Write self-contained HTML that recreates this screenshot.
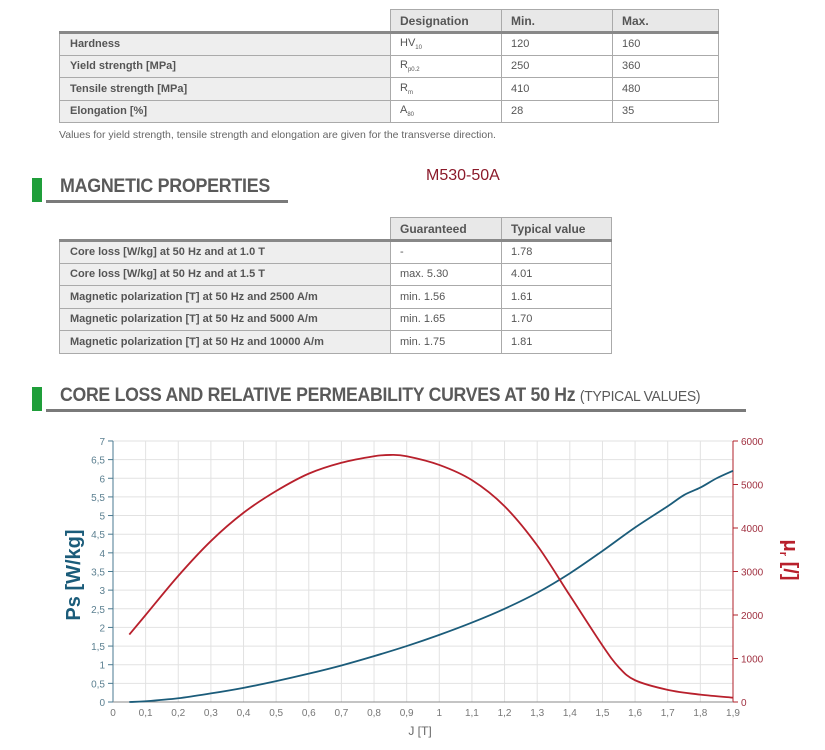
<!DOCTYPE html>
<html><head><meta charset="utf-8"><style>
body{margin:0;width:825px;height:750px;background:#fff;font-family:"Liberation Sans",sans-serif;position:relative;overflow:hidden;color:#555}
.a{position:absolute}
table{position:absolute;border-collapse:collapse;font-size:11px;color:#555}
td{border:1px solid #aaa;height:22.5px;padding:0 0 0 9px;box-sizing:border-box}
td.l{background:#eeeeee;font-weight:bold;color:#555;padding-left:10px}
td.h{background:#e8e8e8;font-weight:bold;font-size:12px;color:#555;height:23px}
tr.hr td{border-bottom:3px solid #888}
sub{font-size:6px}
.h2{position:absolute;font-size:19px;color:#5a5a5a;font-weight:bold;letter-spacing:-0.3px;transform-origin:0 0;white-space:nowrap}
.g{position:absolute;background:#1f9e3a;width:10px}
.u{position:absolute;height:3px;background:#7a7a7a}
</style></head><body>
<table style="left:59px;top:9px;width:660px">
<tr class="hr"><td style="border:none;border-bottom:3px solid #888;width:331px"></td><td class="h" style="width:111px">Designation</td><td class="h" style="width:111px">Min.</td><td class="h">Max.</td></tr>
<tr><td class="l">Hardness</td><td>HV<sub>10</sub></td><td>120</td><td>160</td></tr>
<tr><td class="l">Yield strength [MPa]</td><td>R<sub>p0.2</sub></td><td>250</td><td>360</td></tr>
<tr><td class="l">Tensile strength [MPa]</td><td>R<sub>m</sub></td><td>410</td><td>480</td></tr>
<tr><td class="l">Elongation [%]</td><td>A<sub>80</sub></td><td>28</td><td>35</td></tr>
</table>
<div class="a" style="left:59px;top:129px;font-size:10.5px;color:#666">Values for yield strength, tensile strength and elongation are given for the transverse direction.</div>
<div class="g" style="left:32px;top:178px;height:24px"></div>
<div class="h2" style="left:60px;top:176px;transform:scaleX(0.94)">MAGNETIC PROPERTIES</div>
<div class="u" style="left:46px;top:200px;width:242px"></div>
<div class="a" style="left:426px;top:167px;font-size:16px;color:#8b1a2a">M530-50A</div>
<table style="left:59px;top:217px;width:553px">
<tr class="hr"><td style="border:none;border-bottom:3px solid #888;width:331px"></td><td class="h" style="width:111px">Guaranteed</td><td class="h">Typical value</td></tr>
<tr><td class="l">Core loss [W/kg] at 50 Hz and at 1.0 T</td><td>-</td><td>1.78</td></tr>
<tr><td class="l">Core loss [W/kg] at 50 Hz and at 1.5 T</td><td>max. 5.30</td><td>4.01</td></tr>
<tr><td class="l">Magnetic polarization [T] at 50 Hz and 2500 A/m</td><td>min. 1.56</td><td>1.61</td></tr>
<tr><td class="l">Magnetic polarization [T] at 50 Hz and 5000 A/m</td><td>min. 1.65</td><td>1.70</td></tr>
<tr><td class="l">Magnetic polarization [T] at 50 Hz and 10000 A/m</td><td>min. 1.75</td><td>1.81</td></tr>
</table>
<div class="g" style="left:32px;top:387px;height:24px"></div>
<div class="h2" style="left:60px;top:385px;transform:scaleX(0.93)">CORE LOSS AND RELATIVE PERMEABILITY CURVES AT 50 Hz <span style="font-weight:normal;font-size:15px">(TYPICAL VALUES)</span></div>
<div class="u" style="left:46px;top:409px;width:700px"></div>
<svg class="a" style="left:0;top:0" width="825" height="750" id="s"></svg>
<script>
var s=document.getElementById('s'),h='';
var X=function(j){return 113+j*326.3},Y=function(p){return 702-p*37.29},R=function(m){return 702-m*0.0435};
for(var i=0;i<=19;i++){var x=X(i/10);h+='<line x1="'+x+'" y1="441" x2="'+x+'" y2="702" stroke="#e2e2e2"/>';
h+='<text x="'+x+'" y="716" font-size="10" fill="#777" text-anchor="middle">'+(i==0?'0':(i==10?'1':(i/10).toString().replace('.',',')))+'</text>';}
for(var i=0;i<=14;i++){var y=Y(i/2);h+='<line x1="113" y1="'+y+'" x2="733" y2="'+y+'" stroke="#e2e2e2"/><line x1="108" y1="'+y+'" x2="113" y2="'+y+'" stroke="#4a7a90"/>';
h+='<text x="105" y="'+(y+4)+'" font-size="10" fill="#5b7f90" text-anchor="end">'+(i/2).toString().replace('.',',')+'</text>';}
for(var i=0;i<=6;i++){var y=R(i*1000);h+='<line x1="733" y1="'+y+'" x2="738" y2="'+y+'" stroke="#b0202a"/><text x="741" y="'+(y+4)+'" font-size="10" fill="#a03040">'+(i*1000)+'</text>';}
h+='<line x1="113" y1="441" x2="113" y2="702" stroke="#4a7a90"/><line x1="733" y1="441" x2="733" y2="702" stroke="#b0202a"/><line x1="113" y1="702" x2="733" y2="702" stroke="#888"/>';
var b=[[.05,0],[.1,.02],[.2,.1],[.3,.23],[.4,.38],[.5,.56],[.6,.76],[.7,.98],[.8,1.23],[.9,1.5],[1,1.8],[1.1,2.13],[1.2,2.5],[1.3,2.93],[1.4,3.45],[1.5,4.05],[1.6,4.68],[1.7,5.25],[1.75,5.55],[1.8,5.75],[1.85,6],[1.9,6.2]];
var r=[[.05,1550],[.1,2000],[.2,2900],[.3,3700],[.4,4350],[.5,4850],[.6,5250],[.7,5500],[.8,5650],[.85,5680],[.9,5650],[1,5450],[1.1,5100],[1.2,4500],[1.3,3600],[1.4,2450],[1.5,1300],[1.55,800],[1.6,500],[1.7,280],[1.8,170],[1.9,100]];
function cr(pts){var d='M'+pts[0][0]+','+pts[0][1];for(var i=0;i<pts.length-1;i++){var p0=pts[i-1]||pts[i],p1=pts[i],p2=pts[i+1],p3=pts[i+2]||p2;
d+=' C'+(p1[0]+(p2[0]-p0[0])/6)+','+(p1[1]+(p2[1]-p0[1])/6)+' '+(p2[0]-(p3[0]-p1[0])/6)+','+(p2[1]-(p3[1]-p1[1])/6)+' '+p2[0]+','+p2[1];}return d;}
h+='<path fill="none" stroke="#1b5c7a" stroke-width="1.8" d="'+cr(b.map(function(p){return [X(p[0]),Y(p[1])]}))+'"/>';
h+='<path fill="none" stroke="#b8202c" stroke-width="1.8" d="'+cr(r.map(function(p){return [X(p[0]),R(p[1])]}))+'"/>';
h+='<text x="420" y="735" font-size="12" fill="#666" text-anchor="middle">J [T]</text>';
h+='<text transform="translate(80,575) rotate(-90)" font-size="20" font-weight="bold" fill="#1b5c7a" text-anchor="middle">Ps [W/kg]</text>';
h+='<text transform="translate(784,560) rotate(90)" font-size="20" font-weight="bold" fill="#b8202c" text-anchor="middle">μ<tspan font-size="11" dy="4">r</tspan><tspan dy="-4"> [/]</tspan></text>';
s.innerHTML=h;
</script>
</body></html>
